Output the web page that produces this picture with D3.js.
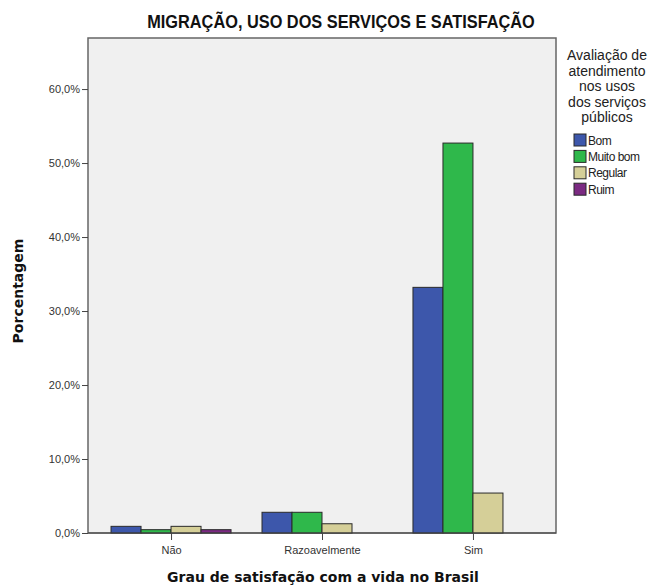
<!DOCTYPE html>
<html>
<head>
<meta charset="utf-8">
<script src="https://cdn.jsdelivr.net/npm/d3@7"></script>
<style>
  body { margin: 0; background: #fff; }
  svg text { font-family: "Liberation Sans", Arial, sans-serif; }
</style>
</head>
<body>
<div id="chart"></div>
<script>
// categories on x axis and the four answer series
const categories = ['Não', 'Razoavelmente', 'Sim'];
const seriesNames = ['Bom', 'Muito bom', 'Regular', 'Ruim'];
const seriesColors = ['#3d57ab', '#2fb84b', '#d5cf98', '#7b2a82'];

// percentages per category
const bom = [0.9, 2.8, 33.2];
const muitoBom = [0.45, 2.8, 52.7];
const regular = [0.9, 1.25, 5.4];
const ruim = [0.45, 0, 0];

const yTicks = [0, 10, 20, 30, 40, 50, 60];
const legendTitle = ['Avaliação de', 'atendimento', 'nos usos', 'dos serviços', 'públicos'];

const seriesValues = [bom, muitoBom, regular, ruim];

const width = 654, height = 585;
const plot = {left: 88, right: 556, top: 38, bottom: 533};

const svg = d3.select('#chart').append('svg')
  .attr('width', width)
  .attr('height', height);

const x = d3.scalePoint()
  .domain(categories)
  .range([plot.left, plot.right])
  .padding(0.55);

const xInner = d3.scaleBand()
  .domain(seriesNames)
  .range([-60, 60])
  .padding(0);

const y = d3.scaleLinear()
  .domain([0, 66.9])
  .range([plot.bottom, plot.top]);

// plot background
svg.append('rect')
  .attr('x', plot.left)
  .attr('y', plot.top)
  .attr('width', plot.right - plot.left)
  .attr('height', plot.bottom - plot.top)
  .attr('fill', '#f0f0f0')
  .attr('stroke', '#666')
  .attr('stroke-width', 1.5);

// bars
const rows = [];
categories.forEach((c, i) => {
  seriesNames.forEach((s, j) => {
    rows.push({cat: c, series: s, value: seriesValues[j][i], color: seriesColors[j]});
  });
});

svg.append('g').selectAll('rect')
  .data(rows.filter(d => d.value > 0))
  .enter().append('rect')
    .attr('x', d => x(d.cat) + xInner(d.series))
    .attr('y', d => y(d.value))
    .attr('width', xInner.bandwidth())
    .attr('height', d => y(0) - y(d.value))
    .attr('fill', d => d.color)
    .attr('stroke', '#2a2a2a')
    .attr('stroke-width', 1);

// y axis
const yAxis = svg.append('g')
  .attr('transform', 'translate(' + plot.left + ',0)')
  .call(d3.axisLeft(y)
    .tickValues(yTicks)
    .tickSize(6)
    .tickFormat(v => v.toFixed(1).replace('.', ',') + '%'));
yAxis.select('.domain').remove();
yAxis.selectAll('line').attr('stroke', '#444');
yAxis.selectAll('text')
  .attr('font-size', 11)
  .attr('fill', '#333')
  .attr('font-family', '"Liberation Sans", Arial, sans-serif')
  .attr('x', -8);

// x axis
const xAxis = svg.append('g')
  .attr('transform', 'translate(0,' + plot.bottom + ')')
  .call(d3.axisBottom(x).tickSize(7).tickPadding(6));
xAxis.select('.domain')
  .attr('d', 'M' + plot.left + ',0H' + plot.right)
  .attr('stroke', '#444');
xAxis.selectAll('line').attr('stroke', '#444');
xAxis.selectAll('text')
  .attr('font-size', 11)
  .attr('fill', '#333')
  .attr('font-family', '"Liberation Sans", Arial, sans-serif');

// titles (condensed look, like the original)
svg.append('text')
  .attr('transform', 'translate(341,28) scale(0.86,1)')
  .attr('text-anchor', 'middle')
  .attr('font-size', 19)
  .attr('font-weight', 'bold')
  .attr('fill', '#111')
  .text('MIGRAÇÃO, USO DOS SERVIÇOS E SATISFAÇÃO');

svg.append('text')
  .attr('x', 323)
  .attr('y', 582)
  .attr('text-anchor', 'middle')
  .attr('font-size', 14)
  .attr('font-weight', 'bold')
  .style('font-family', '"DejaVu Sans", sans-serif')
  .attr('fill', '#111')
  .text('Grau de satisfação com a vida no Brasil');

svg.append('text')
  .attr('transform', 'translate(23,291) rotate(-90)')
  .attr('text-anchor', 'middle')
  .attr('font-size', 14)
  .attr('font-weight', 'bold')
  .style('font-family', '"DejaVu Sans", sans-serif')
  .attr('fill', '#111')
  .text('Porcentagem');

// legend
const legend = svg.append('g');
legend.selectAll('text.ttl')
  .data(legendTitle)
  .enter().append('text')
    .attr('class', 'ttl')
    .attr('x', 607)
    .attr('y', (d, i) => 60 + i * 15.6)
    .attr('text-anchor', 'middle')
    .attr('font-size', 14)
    .attr('fill', '#222')
    .text(d => d);

const items = legend.selectAll('g.item')
  .data(seriesNames)
  .enter().append('g')
    .attr('class', 'item')
    .attr('transform', (d, i) => 'translate(574,' + (134 + i * 16.4) + ')');

items.append('rect')
  .attr('width', 12)
  .attr('height', 12)
  .attr('fill', (d, i) => seriesColors[i])
  .attr('stroke', '#2a2a2a');

items.append('text')
  .attr('x', 14)
  .attr('y', 10.5)
  .attr('font-size', 12)
  .attr('letter-spacing', -0.5)
  .attr('fill', '#222')
  .text(d => d);
</script>
</body>
</html>
